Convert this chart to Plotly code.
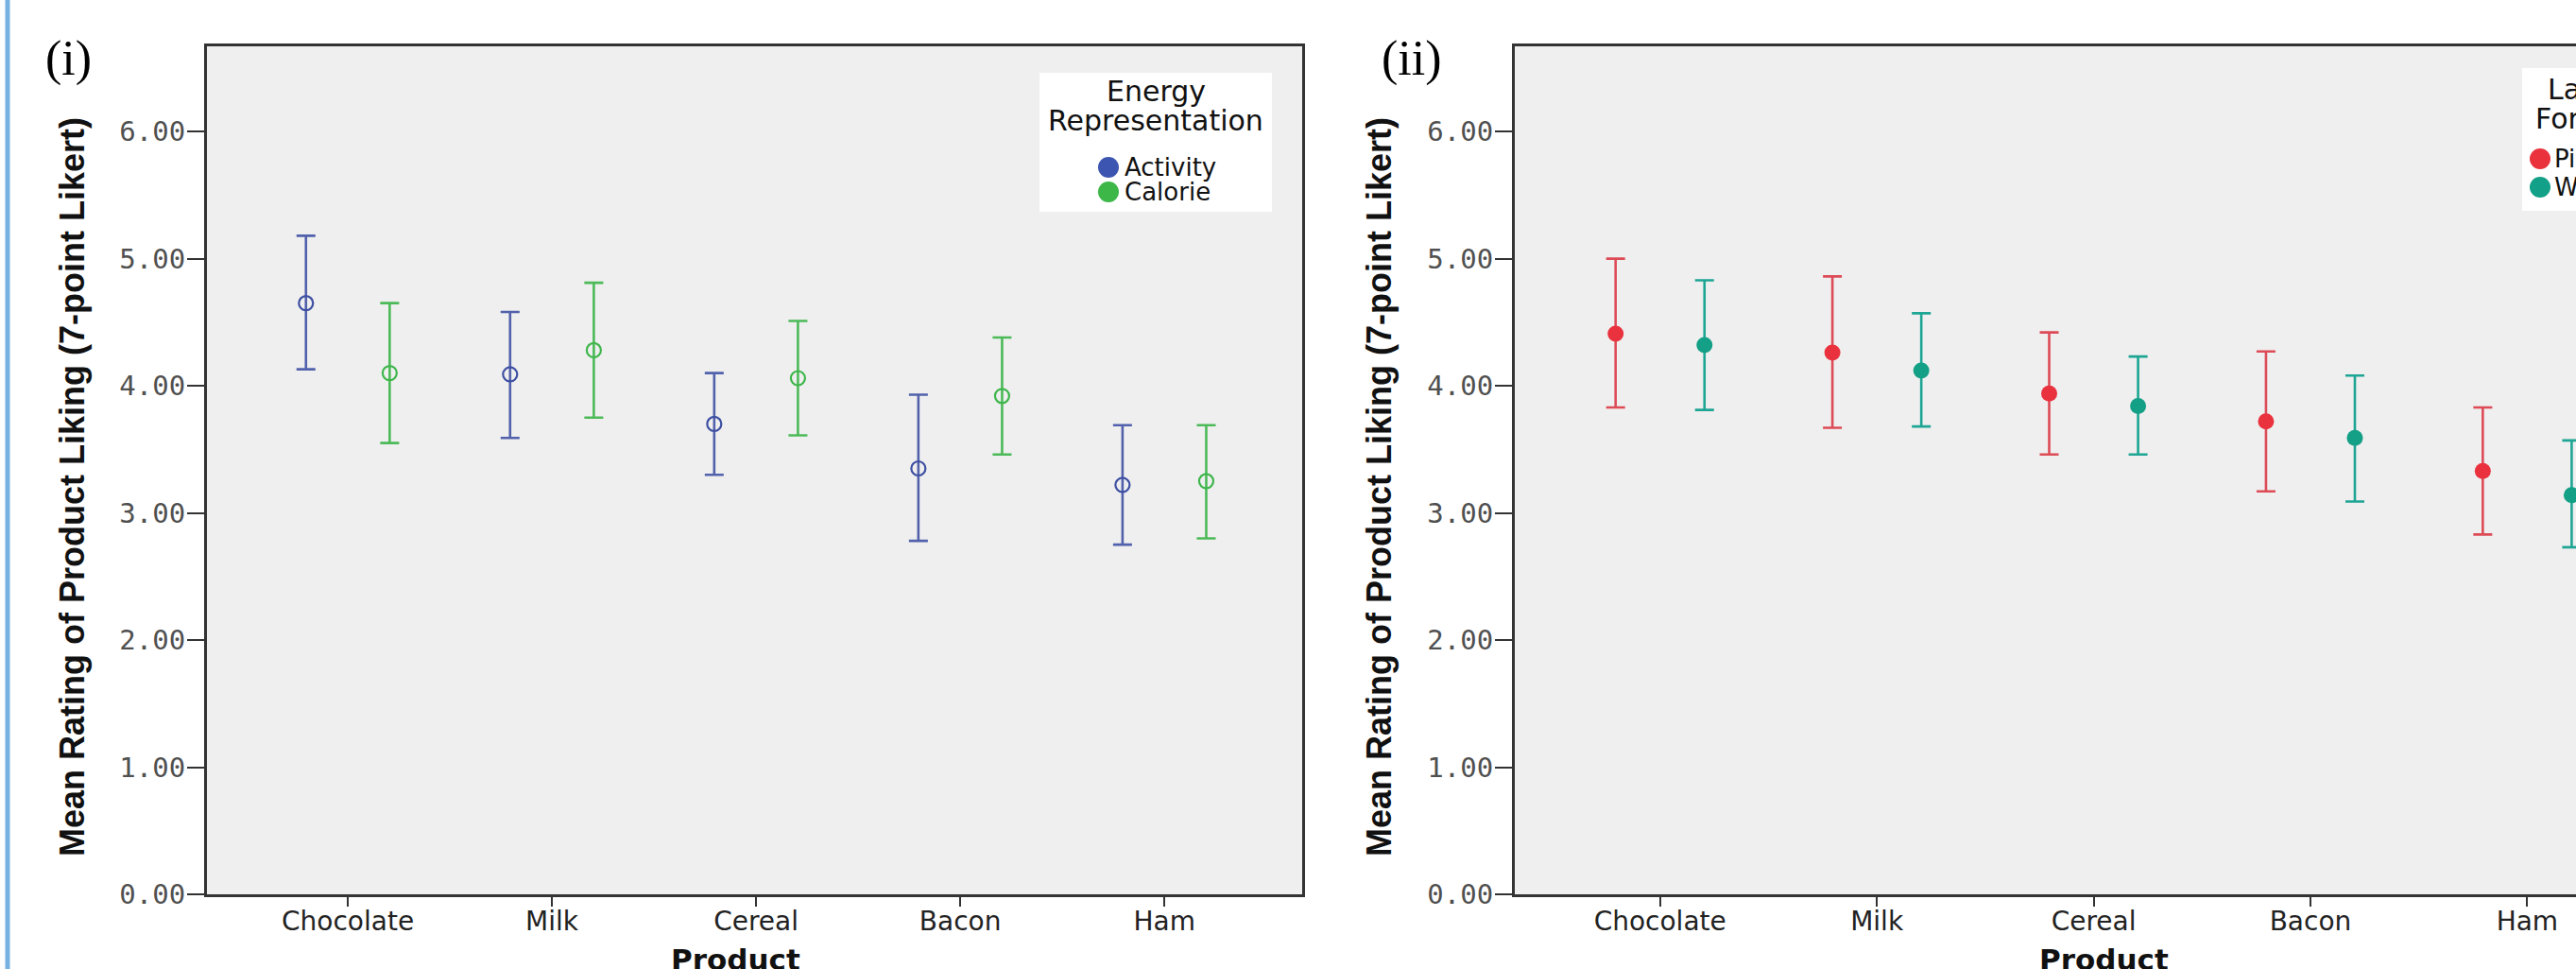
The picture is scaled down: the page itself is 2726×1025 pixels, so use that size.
import plotly.graph_objects as go

W, H = 2726, 1025

# ---------------- data ----------------
products = ["Chocolate", "Milk", "Cereal", "Bacon", "Ham"]
y_ticks = [0, 1, 2, 3, 4, 5, 6]

# Panel (i): Energy Representation
activity_mean = [4.65, 4.09, 3.70, 3.35, 3.22]
activity_lo = [4.13, 3.59, 3.30, 2.78, 2.75]
activity_hi = [5.18, 4.58, 4.10, 3.93, 3.69]
calorie_mean = [4.10, 4.28, 4.06, 3.92, 3.25]
calorie_lo = [3.55, 3.75, 3.61, 3.46, 2.80]
calorie_hi = [4.65, 4.81, 4.51, 4.38, 3.69]

# Panel (ii): Label Format
pictorial_mean = [4.41, 4.26, 3.94, 3.72, 3.33]
pictorial_lo = [3.83, 3.67, 3.46, 3.17, 2.83]
pictorial_hi = [5.00, 4.86, 4.42, 4.27, 3.83]
written_mean = [4.32, 4.12, 3.84, 3.59, 3.14]
written_lo = [3.81, 3.68, 3.46, 3.09, 2.73]
written_hi = [4.83, 4.57, 4.23, 4.08, 3.57]

# ---------------- helpers ----------------
def px(x):
    return x / W

def py(y):
    return 1 - y / H

OFF = 0.205
idx = list(range(len(products)))
x_left = [i - OFF for i in idx]
x_right = [i + OFF for i in idx]

def err(mean, lo, hi):
    return dict(type="data", symmetric=False,
                array=[h - m for m, h in zip(mean, hi)],
                arrayminus=[m - l for m, l in zip(mean, lo)])

C_ACT = "#3d4fa2"
C_ACT_E = "#5261ab"
C_CAL = "#3fb64b"
C_CAL_E = "#4cba58"
C_PIC = "#e9323e"
C_PIC_E = "#dd4b56"
C_WRI = "#14a086"
C_WRI_E = "#1ea594"

fig = go.Figure()

def add(x, mean, lo, hi, color, ecolor, name, xa, ya, open_marker):
    e = err(mean, lo, hi)
    e.update(color=ecolor, thickness=2.6, width=10)
    if open_marker:
        marker = dict(symbol="circle-open", size=15, color=color,
                      line=dict(width=2.2, color=color))
    else:
        marker = dict(symbol="circle", size=17, color=color,
                      line=dict(width=0))
    fig.add_trace(go.Scatter(x=x, y=mean, mode="markers", name=name,
                             marker=marker, error_y=e, xaxis=xa, yaxis=ya,
                             showlegend=False, cliponaxis=True))

add(x_left, activity_mean, activity_lo, activity_hi, C_ACT, C_ACT_E, "Activity", "x", "y", True)
add(x_right, calorie_mean, calorie_lo, calorie_hi, C_CAL, C_CAL_E, "Calorie", "x", "y", True)
add(x_left, pictorial_mean, pictorial_lo, pictorial_hi, C_PIC, C_PIC_E, "Pictorial", "x2", "y2", False)
add(x_right, written_mean, written_lo, written_hi, C_WRI, C_WRI_E, "Written", "x2", "y2", False)

AX = "#333333"
y_dom = [py(946), py(49)]
tickfont_y = dict(family="DejaVu Sans Mono", size=29, color="#505050")
tickfont_x = dict(family="DejaVu Sans", size=28, color="#222222")

common_x = dict(tickmode="array", tickvals=idx, ticktext=products,
                ticks="outside", ticklen=10, tickwidth=2, tickcolor=AX,
                ticklabelstandoff=-9,
                showline=True, linewidth=3, linecolor=AX, mirror=True,
                showgrid=False, zeroline=False, tickfont=tickfont_x,
                automargin=False, fixedrange=True)
common_y = dict(tickmode="array", tickvals=y_ticks,
                ticktext=[f"{v:.2f}" for v in y_ticks],
                range=[0, 6.67], domain=y_dom,
                ticks="outside", ticklen=18, tickwidth=2, tickcolor=AX,
                ticklabelstandoff=-4,
                showline=True, linewidth=3, linecolor=AX,
                showgrid=False, zeroline=False, tickfont=tickfont_y,
                automargin=False, fixedrange=True)

fig.update_layout(
    width=W, height=H,
    margin=dict(l=0, r=0, t=0, b=0, pad=0),
    paper_bgcolor="white",
    plot_bgcolor="#efefef",
    showlegend=False,
    xaxis=dict(common_x, domain=[px(219), px(1378)], range=[-0.69, 4.675], anchor="y"),
    yaxis=dict(common_y, mirror=True, anchor="x"),
    xaxis2=dict(common_x, domain=[px(1603), 1.0], range=[-0.67, 4.225], anchor="y2"),
    yaxis2=dict(common_y, mirror=False, anchor="x2"),
)

shapes = []
annotations = []

# left slide accent line
shapes.append(dict(type="line", xref="paper", yref="paper",
                   x0=px(8), x1=px(8), y0=0, y1=1,
                   line=dict(color="#78b2e3", width=5)))

# panel labels
for text, cx in [("(i)", 72), ("(ii)", 1494)]:
    annotations.append(dict(text=text, x=px(cx), y=py(62), xref="paper", yref="paper",
                            showarrow=False, xanchor="center", yanchor="middle",
                            font=dict(family="Liberation Serif", size=52, color="#000000")))

# axis titles
ytitle = "Mean Rating of Product Liking (7-point Likert)"
for cx in [76, 1459]:
    annotations.append(dict(text=ytitle, x=px(cx), y=py(515), xref="paper", yref="paper",
                            showarrow=False, textangle=-90, xanchor="center", yanchor="middle",
                            font=dict(family="Liberation Sans, Arial, sans-serif", size=36,
                                      color="#111111", weight="bold")))
for cx in [778, 2226]:
    annotations.append(dict(text="Product", x=px(cx), y=py(1015), xref="paper", yref="paper",
                            showarrow=False, xanchor="center", yanchor="middle",
                            font=dict(family="DejaVu Sans", size=31, color="#111111",
                                      weight="bold")))

# legends (white box, centred title, filled keys)
def legend(box, cx_title, title_lines, items, marker_x, text_x):
    x0, y0, x1, y1 = box
    shapes.append(dict(type="rect", xref="paper", yref="paper",
                       x0=px(x0), x1=px(x1), y0=py(y1), y1=py(y0),
                       fillcolor="white", line=dict(width=0), layer="above"))
    for (t, yc) in title_lines:
        annotations.append(dict(text=t, x=px(cx_title), y=py(yc), xref="paper", yref="paper",
                                showarrow=False, xanchor="center", yanchor="middle",
                                font=dict(family="DejaVu Sans", size=30, color="#111111")))
    r = 11
    for (t, yc, col) in items:
        shapes.append(dict(type="circle", xref="paper", yref="paper",
                           x0=px(marker_x - r), x1=px(marker_x + r),
                           y0=py(yc + r), y1=py(yc - r),
                           fillcolor=col, line=dict(width=0), layer="above"))
        annotations.append(dict(text=t, x=px(text_x), y=py(yc), xref="paper", yref="paper",
                                showarrow=False, xanchor="left", yanchor="middle",
                                font=dict(family="DejaVu Sans", size=26, color="#111111")))

legend((1100, 77, 1346, 224), 1223,
       [("Energy", 97), ("Representation", 127)],
       [("Activity", 177, "#3c55b0"), ("Calorie", 203, "#3cb748")],
       1173, 1188)
legend((2669, 72, 2802, 223), 2736,
       [("Label", 95), ("Format", 125)],
       [("Pictorial", 168, "#ea323d"), ("Written", 198, "#12a088")],
       2688, 2701)

fig.update_layout(shapes=shapes, annotations=annotations)

fig.write_html("out.html",
               config={"displayModeBar": False, "staticPlot": True},
               post_script="document.body.style.margin='0px';"
                           "document.body.style.overflow='hidden';")
